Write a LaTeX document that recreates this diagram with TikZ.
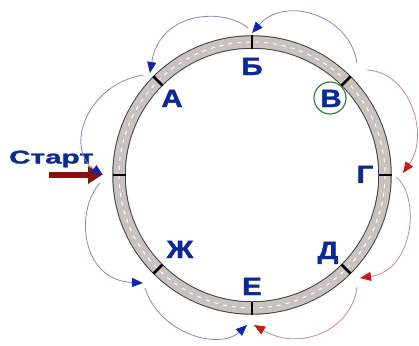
\documentclass[tikz,border=0pt]{standalone}
\usepackage{fontspec}
\setmainfont{Liberation Sans}
\newfontfamily\heavy[BoldFeatures={FakeBold=1.3}]{Liberation Sans}
\usetikzlibrary{arrows.meta,calc}
\definecolor{lblue}{HTML}{0C2A96}
\definecolor{tblue}{HTML}{7F8BC0}
\definecolor{hblue}{HTML}{1226A8}
\definecolor{tred}{HTML}{CC8888}
\definecolor{hred}{HTML}{C81818}
\definecolor{sred}{HTML}{8A1010}
\definecolor{road}{HTML}{C9C2BE}
\definecolor{gcirc}{HTML}{2E8B3A}
\tikzset{
  lbl/.style={font=\heavy\bfseries\fontsize{25}{25}\selectfont, text=lblue, inner sep=0pt, anchor=base, xscale=1.18},
  bluearc/.style={draw=tblue, line width=0.8pt, -{Triangle[length=11pt,width=9pt,color=hblue,fill=hblue]}},
  redarc/.style={draw=tred, line width=0.8pt, -{Triangle[length=11pt,width=9pt,color=hred,fill=hred]}},
  marker/.style={line width=2.6pt, black},
}
\begin{document}
\begin{tikzpicture}[x=1pt,y=-1pt]
\useasboundingbox (0,0) rectangle (419,345);
\coordinate (c) at (252,175);
% road ring
\draw[line width=13.5pt, black!75] (c) circle (133);
\draw[line width=11.5pt, road] (c) circle (133);
\draw[line width=1pt, white, dash pattern=on 4pt off 5pt] (c) circle (133);
% markers
\foreach \a in {-90,-135,-45,180,0,135,45,90}{
  \draw[marker] ($(c)+(\a:126.5)$) -- ($(c)+(\a:139.5)$);
}
% labels
\node[lbl] (A) at (172,107) {А};
\node[lbl] (B) at (252,75) {Б};
\node[lbl] (V) at (331,107) {В};
\node[lbl] (G) at (365,183) {Г};
\node[lbl] (D) at (328,259) {Д};
\node[lbl] (E) at (252,295) {Е};
\node[lbl] (Zh) at (180,258) {Ж};
\node[draw=gcirc, line width=1.2pt, circle, minimum size=32pt, inner sep=0pt] (Vc) at (330,98) {};
% start
\node[font=\heavy\bfseries\fontsize{18.5}{18.5}\selectfont, text=lblue, inner sep=0pt, anchor=base, xscale=1.6] (start) at (51.5,163.5) {Старт};
\coordinate (s0) at (49,175);
\coordinate (s1) at (102,175);
\draw[sred, line width=6pt, -{Triangle[length=14pt,width=17pt]}] (s0) -- (s1);
% arc endpoints
\coordinate (pV1) at (357,63);
\coordinate (pB0) at (252,33);
\coordinate (pB1) at (248,28);
\coordinate (pA0) at (150,73);
\coordinate (pA1) at (143,75);
\coordinate (pS0) at (103,175);
\coordinate (pS1) at (100,183);
\coordinate (pZ0) at (143,283);
\coordinate (pZ1) at (145,288);
\coordinate (pE0) at (247,325);
\coordinate (pV2) at (367,70);
\coordinate (pG0) at (403,173);
\coordinate (pG1) at (396,177);
\coordinate (pD0) at (360,278);
\coordinate (pD1) at (357,287);
\coordinate (pE1) at (254,325);
% blue arcs
\draw[bluearc] (pV1) .. controls (350,15) and (285,-5) .. (pB0);
\draw[bluearc] (pB1) .. controls (225,8) and (160,10) .. (pA0);
\draw[bluearc] (pA1) .. controls (85,85) and (65,150) .. (pS0);
\draw[bluearc] (pS1) .. controls (75,210) and (80,280) .. (pZ0);
\draw[bluearc] (pZ1) .. controls (160,335) and (220,350) .. (pE0);
% red arcs
\draw[redarc] (pV2) .. controls (410,72) and (430,135) .. (pG0);
\draw[redarc] (pG1) .. controls (420,195) and (415,270) .. (pD0);
\draw[redarc] (pD1) .. controls (352,330) and (300,352) .. (pE1);
\end{tikzpicture}
\end{document}
